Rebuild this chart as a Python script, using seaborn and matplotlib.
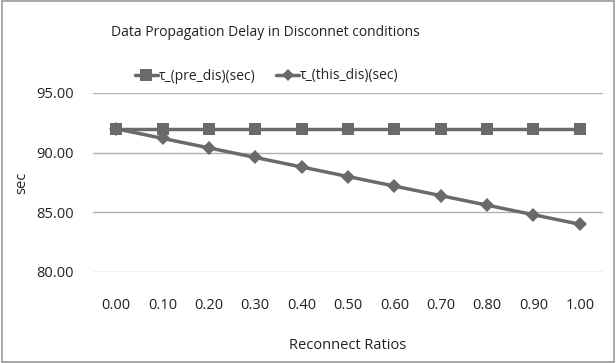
import matplotlib
matplotlib.use("Agg")
import matplotlib.pyplot as plt
import seaborn as sns
import pandas as pd
from matplotlib.patches import Rectangle
from matplotlib.lines import Line2D

categories = ["0.00", "0.10", "0.20", "0.30", "0.40", "0.50", "0.60", "0.70", "0.80", "0.90", "1.00"]
pre_dis = [92.0] * 11
this_dis = [92.0, 91.2, 90.4, 89.6, 88.8, 88.0, 87.2, 86.4, 85.6, 84.8, 84.0]
yticks = [80, 85, 90, 95]
series_names = ["τ_(pre_dis)(sec)", "τ_(this_dis)(sec)"]

sns.set_theme(style="white")
plt.rcParams['font.family'] = ['Open Sans', 'DejaVu Sans']

df = pd.DataFrame({
    "ratio": categories * 2,
    "value": pre_dis + this_dis,
    "series": [series_names[0]] * 11 + [series_names[1]] * 11,
})

fig = plt.figure(figsize=(6.16, 3.63), dpi=100)
ax = fig.add_axes([93/616, 1 - 272/363, 510/616, 179/363])

for y in yticks:
    ax.axhline(y, color="#b0b0b0", lw=1, zorder=0)

col = "#6a6a6a"
sns.lineplot(data=df, x="ratio", y="value", hue="series", style="series",
             markers={series_names[0]: "s", series_names[1]: "D"},
             dashes=False, palette=[col, col], ax=ax, lw=2.5,
             markersize=8.5, markeredgewidth=0, legend=False, sort=False)
for line in ax.get_lines()[len(yticks):]:
    if line.get_marker() == "D":
        line.set_markersize(7)

ax.set_xlim(-0.5, 10.5)
ax.set_ylim(80, 95)
ax.set_yticks(yticks)
ax.set_yticklabels([f"{v:.2f}" for v in yticks])
for s in ax.spines.values():
    s.set_visible(False)
ax.tick_params(axis="both", length=0, labelsize=10.5, colors="#222222")
ax.tick_params(axis="x", pad=19)
ax.tick_params(axis="y", pad=14)
ax.set_xlabel("Reconnect Ratios", fontsize=10.5, color="#222222")
ax.set_ylabel("sec", fontsize=10.5, color="#222222")
ax.yaxis.set_label_coords(-0.125, 0.5)
ax.xaxis.set_label_coords(0.5, -0.37)

handles = [Line2D([], [], color=col, lw=2.5, marker="s", markersize=8, markeredgewidth=0),
           Line2D([], [], color=col, lw=2.5, marker="D", markersize=6, markeredgewidth=0)]
fig.legend(handles, series_names, loc="center",
           bbox_to_anchor=(267/616, 1 - 76/363), ncol=2, frameon=False, fontsize=10,
           handlelength=1.6, handletextpad=0.1, columnspacing=1.5)

fig.text(265/616, 1 - 33/363, "Data Propagation Delay in Disconnet conditions",
         ha="center", va="center", fontsize=10, color="#222222")

fig.patches.append(Rectangle((0.004, 0.004), 0.992, 0.992, transform=fig.transFigure,
                             fill=False, edgecolor="#999999", lw=1.2))

fig.savefig("out.png", dpi=100)
